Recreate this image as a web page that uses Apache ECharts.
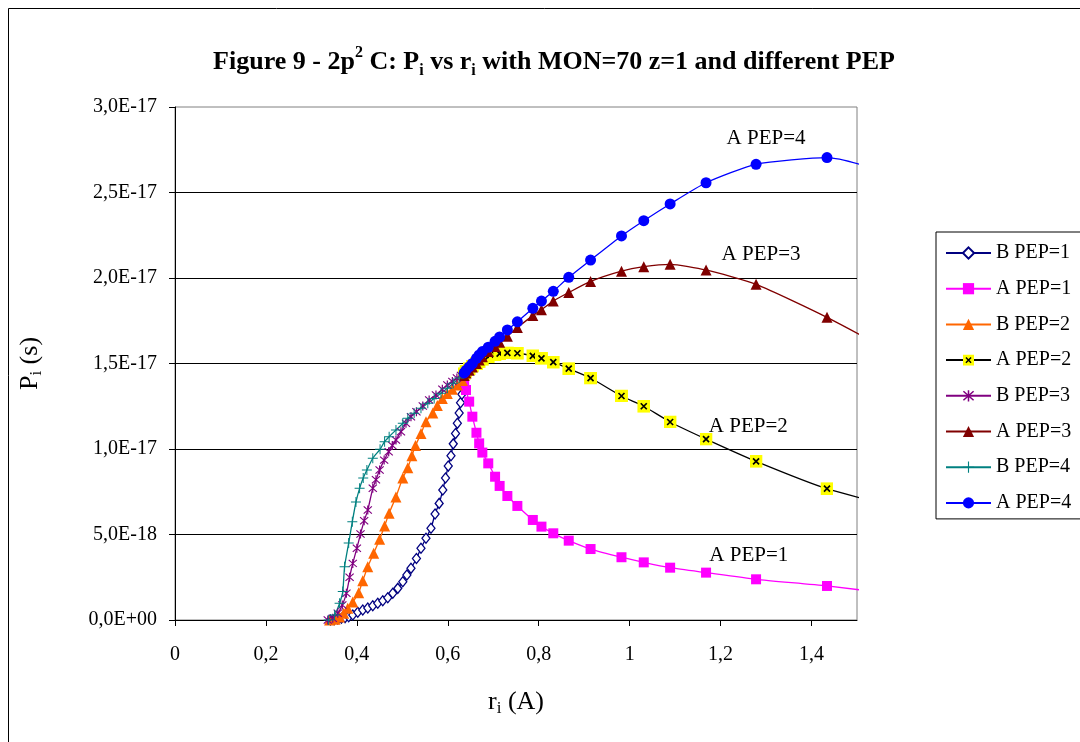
<!DOCTYPE html>
<html><head><meta charset="utf-8">
<script src="https://cdn.jsdelivr.net/npm/echarts@6/dist/echarts.min.js"></script>
<style>html,body{margin:0;padding:0;background:#fff}#chart{width:1080px;height:742px}</style>
</head><body><div id="chart"></div>
<script>
// Pi values are in units of 1E-18 s
const xTickValues = [0, 0.2, 0.4, 0.6, 0.8, 1.0, 1.2, 1.4];
const yTickLabels = ['0,0E+00', '5,0E-18', '1,0E-17', '1,5E-17', '2,0E-17', '2,5E-17', '3,0E-17'];

// "B" series (each with its own r values)
const bPep1X = [0.342, 0.350, 0.358, 0.366, 0.374, 0.382, 0.391, 0.402, 0.413, 0.424, 0.435, 0.446, 0.457, 0.468, 0.479, 0.490, 0.501, 0.510, 0.519, 0.531, 0.541, 0.552, 0.563, 0.572, 0.581, 0.589, 0.595, 0.601, 0.607, 0.612, 0.617, 0.621, 0.625, 0.628, 0.631, 0.634, 0.636];
const bPep1Y = [0.0, 0.02, 0.06, 0.10, 0.14, 0.19, 0.29, 0.45, 0.58, 0.70, 0.83, 0.98, 1.13, 1.30, 1.56, 1.85, 2.24, 2.63, 3.02, 3.6, 4.2, 4.78, 5.36, 6.2, 6.82, 7.6, 8.3, 9.0, 9.6, 10.3, 10.9, 11.5, 12.1, 12.7, 13.2, 13.6, 14.0];

const bPep2X = [0.340, 0.352, 0.362, 0.371, 0.380, 0.391, 0.404, 0.413, 0.424, 0.437, 0.450, 0.461, 0.471, 0.486, 0.501, 0.512, 0.521, 0.529, 0.541, 0.552, 0.567, 0.577, 0.588, 0.599, 0.610, 0.621, 0.632];
const bPep2Y = [0.0, 0.05, 0.18, 0.39, 0.68, 1.05, 1.6, 2.3, 3.12, 3.9, 4.72, 5.5, 6.25, 7.2, 8.3, 8.9, 9.6, 10.2, 10.9, 11.6, 12.1, 12.55, 12.95, 13.25, 13.5, 13.75, 14.0];

const bPep3X = [0.336, 0.347, 0.358, 0.368, 0.377, 0.384, 0.391, 0.400, 0.408, 0.416, 0.424, 0.435, 0.442, 0.450, 0.460, 0.470, 0.478, 0.486, 0.497, 0.508, 0.519, 0.531, 0.545, 0.559, 0.574, 0.588, 0.599, 0.610, 0.620, 0.629, 0.636];
const bPep3Y = [0.0, 0.1, 0.39, 0.88, 1.56, 2.5, 3.31, 4.2, 5.03, 5.8, 6.43, 7.7, 8.2, 8.77, 9.35, 9.84, 10.2, 10.53, 11.01, 11.5, 11.89, 12.18, 12.51, 12.87, 13.16, 13.49, 13.74, 13.95, 14.15, 14.3, 14.45];

const bPep4X = [0.338, 0.351, 0.362, 0.369, 0.373, 0.382, 0.390, 0.398, 0.406, 0.414, 0.422, 0.435, 0.451, 0.461, 0.471, 0.486, 0.501, 0.512, 0.526, 0.541, 0.556, 0.570, 0.585, 0.599, 0.612, 0.625, 0.636];
const bPep4Y = [0.0, 0.29, 0.98, 1.66, 3.12, 4.5, 5.75, 6.9, 7.7, 8.3, 8.77, 9.46, 9.98, 10.43, 10.72, 11.11, 11.5, 11.8, 12.09, 12.38, 12.67, 12.96, 13.26, 13.55, 13.85, 14.15, 14.45];

// "A" series (shared r values; the last point lies beyond the axis end)
const aX = [0.636, 0.640, 0.647, 0.654, 0.663, 0.669, 0.676, 0.689, 0.704, 0.714, 0.731, 0.753, 0.787, 0.806, 0.832, 0.866, 0.914, 0.982, 1.031, 1.089, 1.168, 1.278, 1.434, 1.68];
const aPep1Y = [14.0, 13.45, 12.77, 11.89, 10.95, 10.33, 9.79, 9.16, 8.38, 7.84, 7.25, 6.67, 5.85, 5.46, 5.07, 4.64, 4.15, 3.67, 3.37, 3.06, 2.77, 2.38, 1.99, 1.20];
const aPep2Y = [14.4, 14.55, 14.7, 14.85, 15.0, 15.12, 15.25, 15.4, 15.52, 15.58, 15.62, 15.6, 15.45, 15.3, 15.08, 14.7, 14.15, 13.1, 12.5, 11.58, 10.58, 9.28, 7.68, 5.96];
const aPep3Y = [14.3, 14.45, 14.6, 14.8, 15.0, 15.2, 15.4, 15.7, 16.0, 16.25, 16.6, 17.1, 17.8, 18.15, 18.65, 19.15, 19.8, 20.4, 20.66, 20.8, 20.47, 19.63, 17.70, 14.2];
const aPep4Y = [14.45, 14.6, 14.8, 15.0, 15.3, 15.5, 15.7, 15.95, 16.3, 16.55, 16.96, 17.44, 18.23, 18.65, 19.22, 20.04, 21.05, 22.46, 23.35, 24.33, 25.57, 26.65, 27.04, 25.13];

// in-plot annotations
const noteText = ['A PEP=1', 'A PEP=2', 'A PEP=3', 'A PEP=4'];
const noteX = [1.262, 1.261, 1.289, 1.300];
const noteY = [3.80, 11.30, 21.35, 28.16];

const FONT = '"Liberation Serif", "Times New Roman", serif';
const zip = (xs, ys) => xs.map((x, i) => [x, ys[i]]);

const yellowX = 'image://data:image/svg+xml;charset=utf-8,' + encodeURIComponent(
  "<svg xmlns='http://www.w3.org/2000/svg' width='13' height='13'><rect width='13' height='13' fill='#FFFF00'/><path d='M3.5 3.5L9.5 9.5M9.5 3.5L3.5 9.5' stroke='#000' stroke-width='1.7'/></svg>");
const starPath = 'path://M4.4,0L5.6,0L5.6,10L4.4,10Z M1.4,0.6L9.4,8.6L8.6,9.4L0.6,1.4Z M8.6,0.6L9.4,1.4L1.4,9.4L0.6,8.6Z';
const plusPath = 'path://M4.5,0L5.5,0L5.5,4.5L10,4.5L10,5.5L5.5,5.5L5.5,10L4.5,10L4.5,5.5L0,5.5L0,4.5L4.5,4.5Z';

function mk(name, data, lineColor, symbol, size, itemStyle, note) {
  const s = {
    name, type: 'line', data, symbol, symbolSize: size,
    smooth: 0.2, clip: true,
    lineStyle: { color: lineColor, width: 1.3 },
    itemStyle: Object.assign({ color: lineColor, borderWidth: 0 }, itemStyle || {}),
    emphasis: { disabled: true }
  };
  if (note !== undefined) {
    s.markPoint = {
      symbol: 'rect', symbolSize: 1, itemStyle: { color: 'rgba(0,0,0,0)' },
      label: { show: true, position: 'inside', formatter: noteText[note], color: '#000', fontFamily: FONT, fontSize: 21 },
      data: [{ coord: [noteX[note], noteY[note]] }]
    };
  }
  return s;
}

const series = [
  mk('B PEP=1', zip(bPep1X, bPep1Y), '#000080', 'diamond', [8, 10], { color: '#ffffff', borderColor: '#000080', borderWidth: 1.3 }),
  mk('A PEP=1', zip(aX, aPep1Y), '#FF00FF', 'rect', 10, null, 0),
  mk('B PEP=2', zip(bPep2X, bPep2Y), '#FF6600', 'triangle', 11),
  mk('A PEP=2', zip(aX, aPep2Y), '#000000', yellowX, 13, null, 1),
  mk('B PEP=3', zip(bPep3X, bPep3Y), '#800080', starPath, 9),
  mk('A PEP=3', zip(aX, aPep3Y), '#800000', 'triangle', 11, null, 2),
  mk('B PEP=4', zip(bPep4X, bPep4Y), '#008080', plusPath, 10),
  mk('A PEP=4', zip(aX, aPep4Y), '#0000FF', 'circle', 11, null, 3)
];

const chart = echarts.init(document.getElementById('chart'), null, { renderer: 'canvas' });
chart.setOption({
  animation: false,
  backgroundColor: '#ffffff',
  textStyle: { fontFamily: FONT },
  title: {
    text: '{t|Figure 9 - 2p}{sup|2}{t| C: P}{sub|i}{t| vs r}{sub|i}{t| with MON=70 z=1 and different PEP}',
    left: 549, top: 40, textAlign: 'center',
    textStyle: {
      rich: {
        t: { fontFamily: FONT, fontWeight: 'bold', fontSize: 26, lineHeight: 34, color: '#000' },
        sup: { fontFamily: FONT, fontWeight: 'bold', fontSize: 16, lineHeight: 16, verticalAlign: 'top', color: '#000' },
        sub: { fontFamily: FONT, fontWeight: 'bold', fontSize: 16, lineHeight: 16, verticalAlign: 'bottom', color: '#000' }
      }
    }
  },
  graphic: [{
    type: 'rect', silent: true, z: -10,
    shape: { x: 8.5, y: 8.5, width: 1200, height: 900 },
    style: { fill: 'none', stroke: '#000', lineWidth: 1 }
  }],
  legend: {
    orient: 'vertical', left: 936, top: 232,
    padding: [11, 16, 6, 9], itemGap: 15.7,
    itemWidth: 45, itemHeight: 14,
    borderColor: '#000', borderWidth: 1, backgroundColor: '#fff',
    textStyle: { fontFamily: FONT, fontSize: 20, lineHeight: 20, color: '#000' },
    data: series.map(s => s.name)
  },
  grid: { left: 175, top: 107, right: 223, bottom: 122, show: true, borderColor: '#808080', borderWidth: 1, backgroundColor: '#fff' },
  xAxis: {
    type: 'value', min: 0, max: 1.5, interval: 0.2,
    name: '{n|r}{s|i}{n| (A)}', nameLocation: 'middle', nameGap: 67,
    nameTextStyle: { rich: {
      n: { fontFamily: FONT, fontSize: 26, lineHeight: 30, color: '#000' },
      s: { fontFamily: FONT, fontSize: 17, lineHeight: 17, verticalAlign: 'bottom', color: '#000' }
    } },
    axisLine: { show: true, lineStyle: { color: '#000', width: 1 } },
    axisTick: { show: true, length: 6, lineStyle: { color: '#000' }, customValues: xTickValues },
    axisLabel: { customValues: xTickValues, margin: 25, fontFamily: FONT, fontSize: 20, color: '#000',
      formatter: v => String(+v.toFixed(1)).replace('.', ',') },
    splitLine: { show: false }
  },
  yAxis: {
    type: 'value', min: 0, max: 30, interval: 5,
    name: '{n|P}{s|i}{n| (s)}', nameLocation: 'middle', nameGap: 130, nameRotate: 90,
    nameTextStyle: { rich: {
      n: { fontFamily: FONT, fontSize: 26, lineHeight: 30, color: '#000' },
      s: { fontFamily: FONT, fontSize: 17, lineHeight: 17, verticalAlign: 'bottom', color: '#000' }
    } },
    axisLine: { show: true, lineStyle: { color: '#000', width: 1 } },
    axisTick: { show: true, length: 6, lineStyle: { color: '#000' } },
    axisLabel: { margin: 18, fontFamily: FONT, fontSize: 20, color: '#000',
      formatter: v => yTickLabels[Math.round(v / 5)] },
    splitLine: { show: true, showMaxLine: false, lineStyle: { color: '#000', width: 1 } }
  },
  series
});
</script></body></html>
